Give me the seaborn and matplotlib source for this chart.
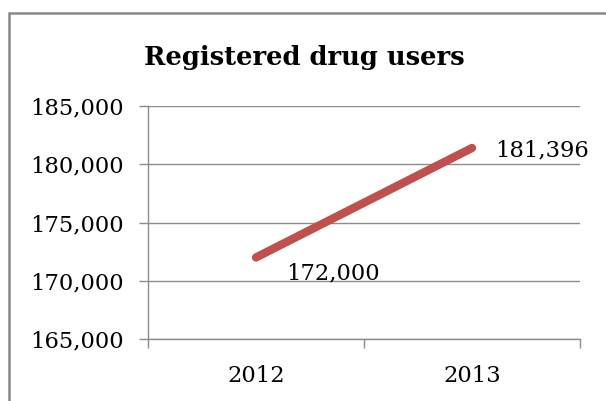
import matplotlib
matplotlib.use("Agg")
import matplotlib.pyplot as plt
import seaborn as sns
import pandas as pd
from matplotlib.patches import Rectangle
from matplotlib.ticker import FuncFormatter, FixedLocator

years = ["2012", "2013"]
users = [172000, 181396]
y_ticks = [165000, 170000, 175000, 180000, 185000]
title = "Registered drug users"

sns.set_theme(style="white")
plt.rcParams['font.family'] = ['DejaVu Serif']

df = pd.DataFrame({"year": years, "users": users})

fig = plt.figure(figsize=(6.06, 4.01), dpi=100)
ax = fig.add_axes([148/606, 1-339/401, (580-148)/606, (339-106)/401])

sns.lineplot(data=df, x="year", y="users", ax=ax, color="#C0504D", linewidth=6,
             solid_capstyle="round")

fs = 16.3
ax.set_xlim(-0.5, 1.5)
ax.set_ylim(y_ticks[0], y_ticks[-1])
ax.set_yticks(y_ticks)
ax.yaxis.set_major_formatter(FuncFormatter(lambda v, p: f"{int(v):,}"))
ax.set_xticks([0, 1])
ax.set_xticklabels(years)
ax.xaxis.set_minor_locator(FixedLocator([-0.5, 0.5, 1.5]))
ax.tick_params(axis="x", which="major", length=0, pad=19, labelsize=fs, colors="black")
ax.tick_params(axis="x", which="minor", bottom=True, length=6.5, width=1, color="#8c8c8c")
ax.tick_params(axis="y", which="major", left=True, length=6.5, width=1, color="#8c8c8c",
               labelsize=fs, labelcolor="black", pad=11)
ax.grid(axis="y", color="#8c8c8c", linewidth=1)
ax.set_axisbelow(True)
for s in ["top", "right"]:
    ax.spines[s].set_visible(False)
for s in ["left", "bottom"]:
    ax.spines[s].set_color("#8c8c8c")
    ax.spines[s].set_linewidth(1)
ax.set_xlabel("")
ax.set_ylabel("")

ax.annotate(f"{users[0]:,}", xy=(0, users[0]), xytext=(22, -11.5), textcoords="offset points",
            fontsize=fs, ha="left", va="center", color="black")
ax.annotate(f"{users[1]:,}", xy=(1, users[1]), xytext=(16.5, -2), textcoords="offset points",
            fontsize=fs, ha="left", va="center", color="black")

fig.text(304/606, 1-58/401, title, ha="center", va="center", fontsize=18.5,
         fontweight="semibold", color="black")

fig.patches.append(Rectangle((9/606, -0.1), 1.2, 1-13/401+0.1, transform=fig.transFigure,
                             fill=False, edgecolor="#888888", linewidth=1.8))

fig.savefig("out.png", dpi=100)
